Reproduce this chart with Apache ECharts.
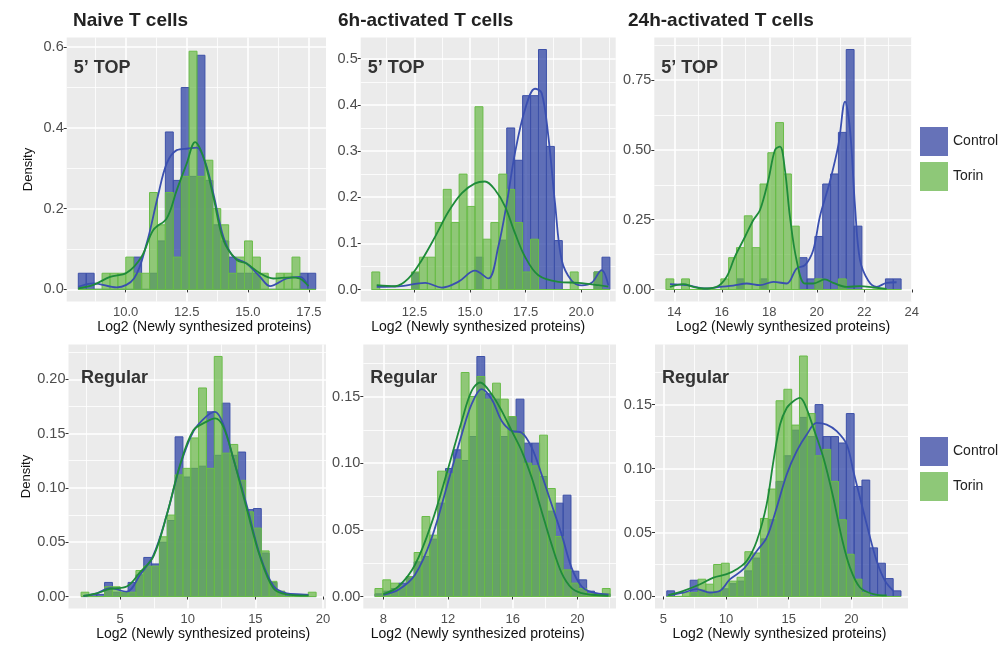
<!DOCTYPE html>
<html>
<head>
<meta charset="utf-8">
<script src="https://cdn.jsdelivr.net/npm/echarts@6/dist/echarts.min.js"></script>
<style>
html, body { margin: 0; background: #fff; }
#main { width: 1002px; height: 647px; }
</style>
</head>
<body>
<div id="main"></div>
<script>
var myChart = echarts.init(document.getElementById('main'));

// panel order: naive 5'TOP, 6h 5'TOP, 24h 5'TOP, naive Regular, 6h Regular, 24h Regular
var binStart = [8.06, 10.58, 13.65, 2.12, 7.48, 5.27];
var binWidth = [0.324, 0.357, 0.33, 0.579, 0.485, 0.623];

// histogram densities, 30 bins each
var ctrlNaiveTop = [0.04,0.04,0,0,0,0,0,0.08,0,0.04,0.12,0.39,0.27,0.50,0.28,0.58,0.27,0.16,0.12,0.08,0.04,0.04,0.04,0,0,0,0,0,0.04,0.04];
var torinNaiveTop = [0,0,0,0.04,0.04,0.04,0.08,0.04,0.04,0.24,0.16,0.24,0.08,0.28,0.59,0.28,0.32,0.20,0.16,0.04,0.08,0.12,0.08,0.04,0,0.04,0.04,0.08,0,0];
var ctrl6hTop = [0,0,0,0,0,0.036,0,0,0,0,0,0,0,0.07,0,0,0.107,0.35,0.28,0.42,0.42,0.52,0.31,0.106,0,0,0,0,0.038,0.07];
var torin6hTop = [0.038,0,0,0,0,0.038,0.07,0.07,0.145,0.217,0.145,0.25,0.18,0.396,0.109,0.145,0.25,0.217,0.145,0.038,0.109,0,0,0,0,0.038,0,0,0.038,0];
var ctrl24hTop = [0,0,0,0,0,0,0,0,0,0.038,0,0,0.038,0,0,0,0,0.114,0.038,0.19,0.378,0.414,0.563,0.86,0.227,0,0,0,0.038,0.038];
var torin24hTop = [0.038,0,0.038,0,0,0,0,0.038,0.114,0.15,0.264,0.15,0.378,0.49,0.598,0.414,0.227,0,0,0.038,0,0,0.038,0,0,0,0,0,0,0];
var ctrlNaiveReg = [0,0.002,0.002,0.013,0.004,0.004,0.013,0.02,0.036,0.03,0.05,0.07,0.147,0.11,0.118,0.12,0.17,0.13,0.178,0.13,0.133,0.08,0.081,0.04,0.013,0.004,0.002,0.002,0.002,0];
var torinNaiveReg = [0.004,0,0,0.009,0.009,0.004,0.004,0.024,0.028,0.028,0.055,0.075,0.112,0.118,0.146,0.192,0.118,0.221,0.132,0.14,0.107,0.078,0.063,0.042,0.014,0.005,0,0,0,0.004];
var ctrl6hReg = [0.002,0.004,0.006,0.01,0.014,0.026,0.03,0.043,0.07,0.096,0.11,0.102,0.12,0.18,0.152,0.148,0.12,0.135,0.148,0.115,0.115,0.09,0.064,0.07,0.076,0.019,0.0125,0.004,0.002,0.002];
var torin6hReg = [0.006,0.0125,0.01,0.008,0.015,0.033,0.06,0.046,0.094,0.092,0.103,0.168,0.15,0.165,0.148,0.16,0.148,0.135,0.123,0.1,0.098,0.121,0.081,0.045,0.02,0.01,0.006,0.002,0.002,0.006];
var ctrl24hReg = [0.0044,0,0,0.0127,0.005,0.003,0.004,0.006,0.01,0.012,0.02,0.03,0.045,0.06,0.09,0.11,0.13,0.14,0.125,0.15,0.125,0.125,0.12,0.143,0.086,0.091,0.038,0.026,0.014,0.0044];
var torin24hReg = [0,0,0.003,0.003,0.0135,0.0096,0.025,0.026,0.012,0.015,0.035,0.034,0.061,0.084,0.153,0.162,0.134,0.188,0.143,0.11,0.115,0.09,0.06,0.033,0.0135,0.003,0,0,0,0];

// density curves [x, density]
var ctrlDensNaiveTop = [[8.06,0.0066],[8.68,0.015],[9.63,0.005],[10.34,0.027],[10.86,0.114],[11.31,0.229],[11.68,0.312],[12.09,0.345],[12.56,0.349],[12.91,0.351],[13.25,0.316],[13.59,0.237],[14.0,0.13],[14.41,0.081],[14.95,0.064],[15.5,0.031],[15.91,0.008],[16.59,0.027],[17.13,0.031],[17.48,0.008]];
var torinDensNaiveTop = [[8.06,0.0025],[8.68,0.011],[9.36,0.031],[10.04,0.041],[10.65,0.081],[11.13,0.147],[11.68,0.176],[12.09,0.246],[12.5,0.312],[12.84,0.365],[13.18,0.328],[13.59,0.229],[14.0,0.122],[14.54,0.073],[14.95,0.064],[15.5,0.04],[16.04,0.027],[16.73,0.03],[17.13,0.027],[17.48,0.008]];
var ctrlDens6hTop = [[10.8,0.006],[11.78,0.007],[12.98,0.0145],[13.73,0.004],[14.48,0.017],[15.22,0.041],[15.82,0.024],[16.27,0.093],[16.65,0.187],[17.02,0.296],[17.47,0.39],[17.92,0.435],[18.22,0.426],[18.52,0.332],[18.82,0.187],[19.12,0.064],[19.57,0.019],[20.02,0.009],[20.47,0.0145],[20.92,0.042],[21.22,0.009]];
var torinDens6hTop = [[10.8,0.0094],[11.63,0.007],[12.23,0.024],[12.83,0.064],[13.43,0.1145],[14.03,0.169],[14.63,0.209],[15.22,0.23],[15.67,0.234],[16.12,0.216],[16.57,0.18],[17.02,0.122],[17.47,0.071],[18.07,0.031],[18.97,0.0167],[19.87,0.0145],[20.77,0.0094],[21.22,0.006]];
var ctrlDens24hTop = [[13.82,0.019],[14.52,0.0155],[15.36,0.0036],[15.92,0.0096],[16.48,0.014],[17.05,0.0215],[17.61,0.0155],[18.17,0.0275],[18.73,0.0215],[19.15,0.075],[19.5,0.087],[19.85,0.141],[20.13,0.261],[20.55,0.386],[20.91,0.518],[21.19,0.673],[21.4,0.572],[21.61,0.297],[21.82,0.105],[22.17,0.031],[22.52,0.0096],[22.94,0.024],[23.36,0.026]];
var torinDens24hTop = [[13.82,0.0096],[14.38,0.019],[14.8,0.0096],[15.22,0.0036],[15.78,0.0096],[16.2,0.045],[16.55,0.117],[16.98,0.189],[17.33,0.249],[17.61,0.285],[17.96,0.392],[18.24,0.5],[18.45,0.512],[18.66,0.428],[18.87,0.261],[19.15,0.105],[19.5,0.0215],[19.85,0.0215],[20.34,0.036],[20.69,0.024],[21.26,0.0096],[21.82,0.012],[22.38,0.0072],[22.94,0.0024]];
var ctrlDensNaiveReg = [[2.29,0.0006],[3.28,0.003],[4.26,0.0077],[5.49,0.0046],[6.48,0.02],[7.46,0.038],[8.45,0.075],[9.43,0.12],[10.42,0.152],[11.4,0.166],[12.02,0.17],[12.64,0.158],[13.37,0.127],[14.36,0.084],[15.34,0.038],[16.33,0.01],[17.32,0.003],[18.3,0.002],[18.92,0.0015]];
var torinDensNaiveReg = [[2.29,0.0006],[3.28,0.003],[4.26,0.007],[5.49,0.0092],[6.48,0.0224],[7.46,0.0368],[8.45,0.075],[9.43,0.121],[10.42,0.153],[11.4,0.161],[12.02,0.164],[12.64,0.156],[13.37,0.127],[14.36,0.081],[15.34,0.0368],[16.33,0.0077],[17.32,0.002],[18.92,0.0009]];
var ctrlDens6hReg = [[8.0,0.0013],[8.93,0.005],[9.96,0.0163],[10.99,0.0439],[12.02,0.0865],[12.85,0.1216],[13.46,0.1442],[14.08,0.1555],[14.7,0.148],[15.32,0.1317],[15.94,0.1242],[16.56,0.1229],[17.18,0.1116],[17.79,0.0915],[18.41,0.069],[19.03,0.0464],[19.65,0.0213],[20.27,0.0075],[20.89,0.0033],[21.92,0.0013]];
var torinDens6hReg = [[8.0,0.0018],[8.93,0.0075],[9.96,0.0238],[10.99,0.0552],[12.02,0.0966],[12.85,0.1317],[13.46,0.1542],[13.98,0.1605],[14.7,0.1517],[15.32,0.1392],[15.94,0.1242],[16.56,0.1091],[17.18,0.089],[17.79,0.064],[18.41,0.0389],[19.03,0.0176],[19.65,0.0063],[20.27,0.0025],[20.89,0.0013],[21.92,0.0005]];
var ctrlDens24hReg = [[5.4,0.001],[6.6,0.0031],[7.66,0.0057],[8.72,0.0031],[9.52,0.0044],[10.32,0.0135],[11.38,0.0213],[12.45,0.0356],[13.24,0.046],[14.04,0.0694],[14.84,0.0954],[15.64,0.1136],[16.44,0.1266],[17.23,0.1357],[18.03,0.1344],[18.83,0.1292],[19.63,0.1188],[20.16,0.098],[20.69,0.0772],[21.36,0.0512],[22.02,0.0278],[22.69,0.0122],[23.35,0.0044]];
var torinDens24hReg = [[5.4,0.001],[6.6,0.0044],[7.93,0.0096],[8.99,0.0148],[10.05,0.0174],[10.85,0.0213],[11.65,0.0278],[12.45,0.0434],[13.24,0.072],[13.78,0.1058],[14.31,0.1344],[14.84,0.1474],[15.37,0.1526],[15.9,0.1552],[16.3,0.15],[16.97,0.1318],[17.77,0.1084],[18.56,0.0772],[19.23,0.046],[19.89,0.0226],[20.69,0.007],[21.76,0.0018],[22.82,0.0008]];

var xTicks = [[10, 12.5, 15, 17.5], [12.5, 15, 17.5, 20], [14, 16, 18, 20, 22, 24], [5, 10, 15, 20], [8, 12, 16, 20], [5, 10, 15, 20]];
var yTicks = [[0, 0.2, 0.4, 0.6], [0, 0.1, 0.2, 0.3, 0.4, 0.5], [0, 0.25, 0.5, 0.75], [0, 0.05, 0.1, 0.15, 0.2], [0, 0.05, 0.1, 0.15], [0, 0.05, 0.1, 0.15]];
var xDec = [1, 1, 0, 0, 0, 0];
var yDec = [1, 1, 2, 2, 2, 2];
var panelTags = ['5\u2019 TOP', '5\u2019 TOP', '5\u2019 TOP', 'Regular', 'Regular', 'Regular'];

var ctrlBins = [ctrlNaiveTop, ctrl6hTop, ctrl24hTop, ctrlNaiveReg, ctrl6hReg, ctrl24hReg];
var torinBins = [torinNaiveTop, torin6hTop, torin24hTop, torinNaiveReg, torin6hReg, torin24hReg];
var ctrlDens = [ctrlDensNaiveTop, ctrlDens6hTop, ctrlDens24hTop, ctrlDensNaiveReg, ctrlDens6hReg, ctrlDens24hReg];
var torinDens = [torinDensNaiveTop, torinDens6hTop, torinDens24hTop, torinDensNaiveReg, torinDens6hReg, torinDens24hReg];

// layout
var gridLeft = [66.7, 360.7, 654.3, 68.5, 363.3, 655];
var gridWidth = [259.3, 255, 257.5, 257.5, 252.7, 253];
var gridTop = [37.5, 37.5, 37.5, 344.5, 344.5, 344.5];
var gridHeight = 264;
var xMin = [7.585, 10.08, 13.16, 1.19, 6.76, 4.33];
var xMax = [18.2, 21.55, 24, 20.22, 22.39, 24.52];
var yMin = [-0.03, -0.026, -0.043, -0.011, -0.009, -0.0094];
var yMax = [0.624, 0.546, 0.903, 0.232, 0.189, 0.197];
var xTitleShift = [8, -10, 0, 6, -12, -2];

var FONT = 'Liberation Sans, Arial, sans-serif';
var CTRL_FILL = 'rgba(40,62,162,0.72)', CTRL_LINE = '#3D50A8';
var TORIN_FILL = 'rgba(104,184,70,0.7)', TORIN_LINE = '#69BC48';

function minorOf(ticks, lo, hi) {
    var step = ticks[1] - ticks[0];
    var out = [];
    for (var v = ticks[0] - step / 2; v <= hi + 1e-9; v += step) {
        if (v >= lo) out.push(+v.toFixed(6));
    }
    return out;
}

function histSeries(name, bins, i, fill, stroke) {
    var data = bins.map(function (h, k) {
        return [binStart[i] + k * binWidth[i], binStart[i] + (k + 1) * binWidth[i], h];
    });
    return {
        type: 'custom',
        name: name,
        xAxisIndex: 2 * i,
        yAxisIndex: 2 * i,
        silent: true,
        itemStyle: { color: fill },
        encode: { x: [0, 1], y: 2 },
        data: data,
        z: 2,
        renderItem: function (params, api) {
            var a = api.coord([api.value(0), api.value(2)]);
            var b = api.coord([api.value(1), 0]);
            return {
                type: 'rect',
                shape: { x: a[0], y: a[1], width: b[0] - a[0], height: b[1] - a[1] },
                style: { fill: fill, stroke: stroke, lineWidth: 1 }
            };
        }
    };
}

function densSeries(name, pts, i, color) {
    return {
        type: 'line',
        name: name,
        xAxisIndex: 2 * i,
        yAxisIndex: 2 * i,
        data: pts,
        smooth: 0.35,
        symbol: 'none',
        silent: true,
        z: 3,
        lineStyle: { color: color, width: 1.8 }
    };
}

var grids = [], xAxes = [], yAxes = [], series = [], titles = [];

for (var i = 0; i < 6; i++) {
    grids.push({
        left: gridLeft[i], top: gridTop[i], width: gridWidth[i], height: gridHeight,
        show: true, backgroundColor: '#EBEBEB', borderWidth: 0
    });
    (function (i) {
        var shift = xTitleShift[i];
        xAxes.push({
            type: 'value', gridIndex: i, min: xMin[i], max: xMax[i], position: 'bottom',
            axisLine: { show: false },
            axisTick: { show: true, length: 3, lineStyle: { color: '#333', width: 1 }, customValues: xTicks[i] },
            axisLabel: {
                customValues: xTicks[i], color: '#4D4D4D', fontSize: 13, margin: 4, fontFamily: FONT,
                formatter: function (v) { return (+v).toFixed(xDec[i]); }
            },
            splitLine: { show: true, lineStyle: { color: '#fff', width: 1.6 } },
            name: 'Log2 (Newly synthesized proteins)',
            nameLocation: 'middle',
            nameGap: 19,
            nameTextStyle: {
                fontSize: 14, color: '#111', fontFamily: FONT, verticalAlign: 'top',
                padding: shift > 0 ? [0, 0, 0, 2 * shift] : [0, -2 * shift, 0, 0]
            }
        });
        xAxes.push({
            type: 'value', gridIndex: i, min: xMin[i], max: xMax[i], position: 'bottom',
            axisLine: { show: false },
            axisTick: { show: false, customValues: minorOf(xTicks[i], xMin[i], xMax[i]) },
            axisLabel: { show: false },
            splitLine: { show: true, lineStyle: { color: '#fff', width: 0.8 } }
        });
        var yMajor = {
            type: 'value', gridIndex: i, min: yMin[i], max: yMax[i], position: 'left',
            axisLine: { show: false },
            axisTick: { show: true, length: 3, lineStyle: { color: '#333', width: 1 }, customValues: yTicks[i] },
            axisLabel: {
                customValues: yTicks[i], color: '#4D4D4D', fontSize: 14.5, margin: 3, fontFamily: FONT,
                formatter: function (v) { return (+v).toFixed(yDec[i]); }
            },
            splitLine: { show: true, lineStyle: { color: '#fff', width: 1.6 } }
        };
        if (i === 0 || i === 3) {
            yMajor.name = 'Density';
            yMajor.nameLocation = 'middle';
            yMajor.nameGap = 32;
            yMajor.nameTextStyle = { fontSize: 13, color: '#111', fontFamily: FONT };
        }
        yAxes.push(yMajor);
        yAxes.push({
            type: 'value', gridIndex: i, min: yMin[i], max: yMax[i], position: 'left',
            axisLine: { show: false },
            axisTick: { show: false, customValues: minorOf(yTicks[i], yMin[i], yMax[i]) },
            axisLabel: { show: false },
            splitLine: { show: true, lineStyle: { color: '#fff', width: 0.8 } }
        });
    })(i);

    series.push(histSeries('Control', ctrlBins[i], i, CTRL_FILL, CTRL_LINE));
    series.push(histSeries('Torin', torinBins[i], i, TORIN_FILL, TORIN_LINE));
    series.push(densSeries('Control density', ctrlDens[i], i, '#3A4FB0'));
    series.push(densSeries('Torin density', torinDens[i], i, '#1E8B3A'));

    titles.push({
        text: panelTags[i],
        left: gridLeft[i] + (i === 3 ? 12.5 : 7),
        top: gridTop[i] + (i < 3 ? 22 : 25),
        padding: 0,
        textStyle: { fontSize: 18, fontWeight: 'bold', color: '#333', fontFamily: FONT }
    });
}

var colTitles = ['Naive T cells', '6h-activated T cells', '24h-activated T cells'];
var colTitleLeft = [73, 338, 628];
colTitles.forEach(function (t, k) {
    titles.push({
        text: t, left: colTitleLeft[k], top: 11, padding: 0,
        textStyle: { fontSize: 19, fontWeight: 'bold', color: '#222', fontFamily: FONT }
    });
});

function legendAt(top) {
    return {
        orient: 'vertical', left: 920, top: top, padding: 0,
        itemWidth: 28, itemHeight: 29, itemGap: 6, selectedMode: false,
        textStyle: { fontSize: 14, color: '#222', fontFamily: FONT },
        data: [
            { name: 'Control', icon: 'rect', itemStyle: { color: '#6672B8', borderWidth: 0 } },
            { name: 'Torin', icon: 'rect', itemStyle: { color: '#8EC878', borderWidth: 0 } }
        ]
    };
}

var option = {
    animation: false,
    backgroundColor: '#fff',
    title: titles,
    legend: [legendAt(127), legendAt(437)],
    grid: grids,
    xAxis: xAxes,
    yAxis: yAxes,
    series: series
};

myChart.setOption(option);
</script>
</body>
</html>
